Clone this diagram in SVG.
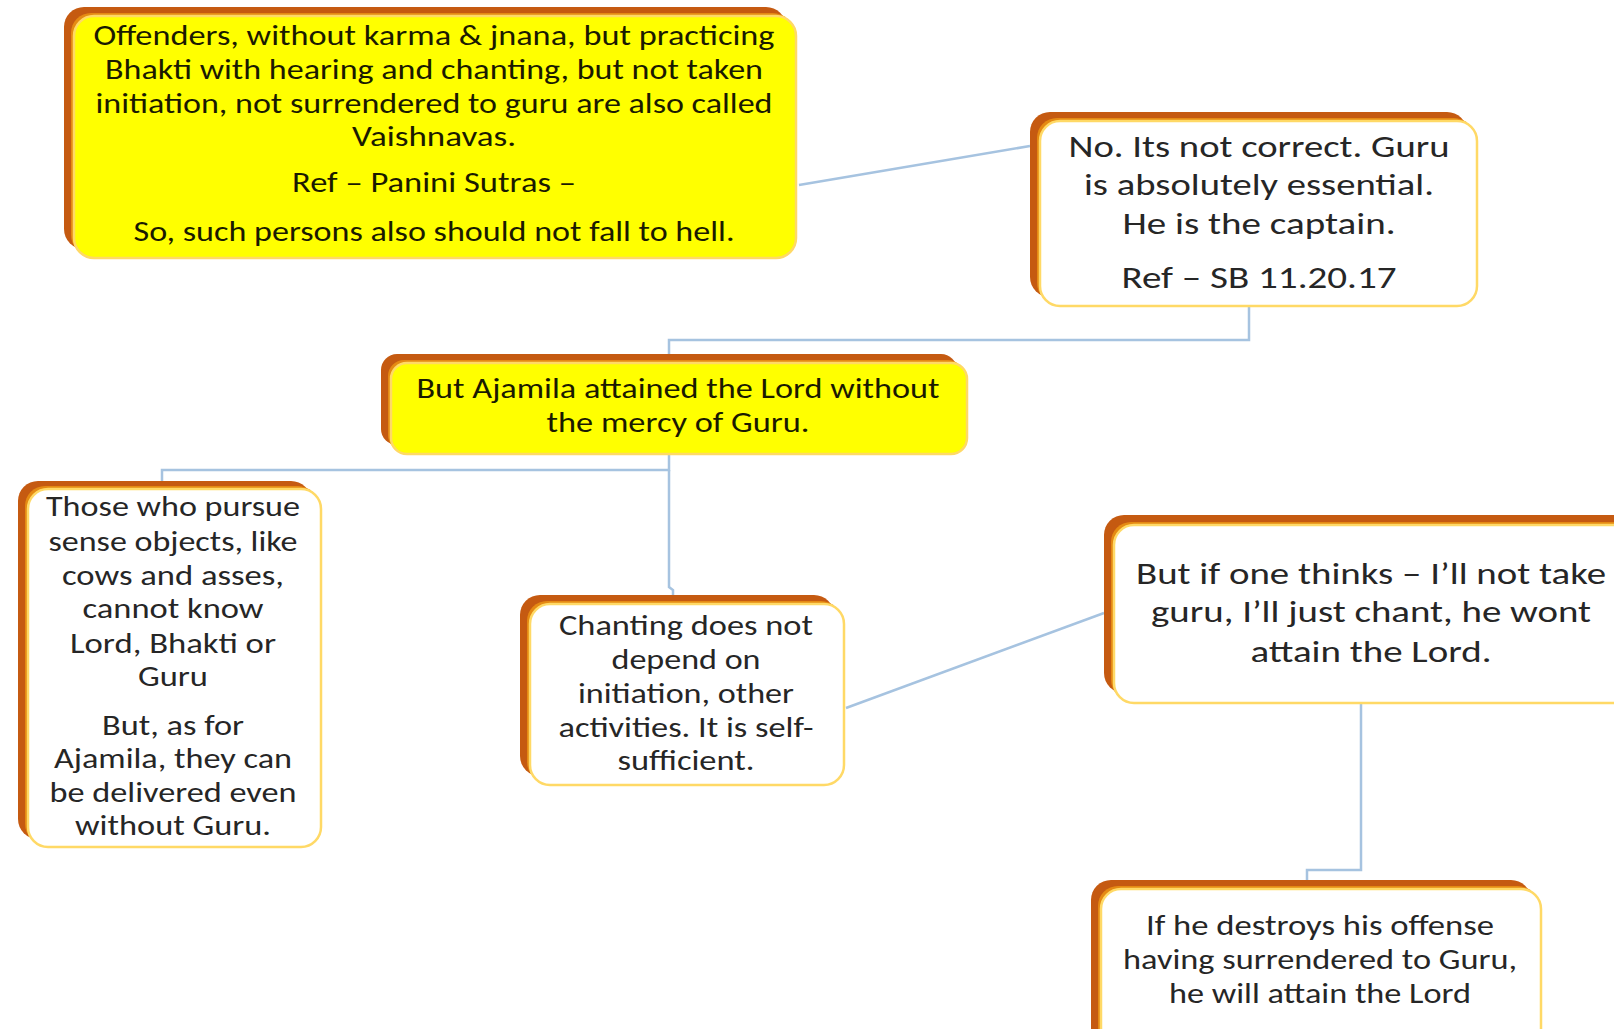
<svg xmlns="http://www.w3.org/2000/svg" width="1614" height="1029" viewBox="0 0 1614 1029">
<defs>
<style>
.bk{fill:#C55A11}
.md{fill:#E58A13}
.fw{fill:#FFFFFF;stroke:#FFD966;stroke-width:2.5}
.fy{fill:#FFFF00;stroke:#FFD966;stroke-width:2.5}
.t{font-family:Carlito,Lato,"Liberation Sans",sans-serif;font-size:28px;fill:#262626;text-anchor:middle}
.ty{fill:#1a1a00}
.w{font-size:30px}
.c{fill:none;stroke:#A6C3E0;stroke-width:2.5}
</style>
</defs>
<rect width="1614" height="1029" fill="#FFFFFF"/>
<g id="connectors">
<line class="c" x1="799" y1="185" x2="1030" y2="146"/>
<polyline class="c" points="1249,306 1249,340 669,340 669,354"/>
<polyline class="c" points="669,455 669,470 162,470 162,482"/>
<polyline class="c" points="669,470 669,587 673,590 673,596"/>
<line class="c" x1="846" y1="708" x2="1104" y2="613"/>
<polyline class="c" points="1361,703 1361,870 1307,870 1307,882"/>
</g>
<g id="node1">
<rect class="bk" x="64" y="7" width="722" height="242" rx="20"/>
<rect class="md" x="71" y="13" width="722" height="242" rx="20"/>
<rect class="fy" x="74" y="16" width="722" height="242" rx="20"/>
<text class="t ty" x="434" y="45" textLength="681" lengthAdjust="spacingAndGlyphs">Offenders, without karma &amp; jnana, but practicing</text>
<text class="t ty" x="434" y="79" textLength="658" lengthAdjust="spacingAndGlyphs">Bhakti with hearing and chanting, but not taken</text>
<text class="t ty" x="434" y="113" textLength="677" lengthAdjust="spacingAndGlyphs">initiation, not surrendered to guru are also called</text>
<text class="t ty" x="434" y="146" textLength="164" lengthAdjust="spacingAndGlyphs">Vaishnavas.</text>
<text class="t ty" x="434" y="192" textLength="284" lengthAdjust="spacingAndGlyphs">Ref – Panini Sutras –</text>
<text class="t ty" x="434" y="241" textLength="601" lengthAdjust="spacingAndGlyphs">So, such persons also should not fall to hell.</text>
</g>
<g id="node2">
<rect class="bk" x="1030" y="112" width="437" height="185" rx="20"/>
<rect class="md" x="1037" y="118" width="437" height="185" rx="20"/>
<rect class="fw" x="1040" y="121" width="437" height="185" rx="20"/>
<text class="t w" x="1259" y="157" textLength="381" lengthAdjust="spacingAndGlyphs">No. Its not correct. Guru</text>
<text class="t w" x="1259" y="195" textLength="350" lengthAdjust="spacingAndGlyphs">is absolutely essential.</text>
<text class="t w" x="1259" y="234" textLength="273" lengthAdjust="spacingAndGlyphs">He is the captain.</text>
<text class="t w" x="1259" y="288" textLength="275" lengthAdjust="spacingAndGlyphs">Ref – SB 11.20.17</text>
</g>
<g id="node3">
<rect class="bk" x="381" y="354" width="576" height="91" rx="16"/>
<rect class="md" x="388" y="360" width="576" height="91" rx="16"/>
<rect class="fy" x="391" y="363" width="576" height="91" rx="16"/>
<text class="t ty" x="678" y="398" textLength="523" lengthAdjust="spacingAndGlyphs">But Ajamila attained the Lord without</text>
<text class="t ty" x="678" y="432" textLength="263" lengthAdjust="spacingAndGlyphs">the mercy of Guru.</text>
</g>
<g id="node4">
<rect class="bk" x="18" y="481" width="293" height="358" rx="20"/>
<rect class="md" x="25" y="486" width="293" height="358" rx="20"/>
<rect class="fw" x="28" y="489" width="293" height="358" rx="20"/>
<text class="t" x="173" y="516" textLength="254" lengthAdjust="spacingAndGlyphs">Those who pursue</text>
<text class="t" x="173" y="551" textLength="249" lengthAdjust="spacingAndGlyphs">sense objects, like</text>
<text class="t" x="173" y="585" textLength="222" lengthAdjust="spacingAndGlyphs">cows and asses,</text>
<text class="t" x="173" y="618" textLength="181" lengthAdjust="spacingAndGlyphs">cannot know</text>
<text class="t" x="173" y="653" textLength="206" lengthAdjust="spacingAndGlyphs">Lord, Bhakti or</text>
<text class="t" x="173" y="686" textLength="70" lengthAdjust="spacingAndGlyphs">Guru</text>
<text class="t" x="173" y="735" textLength="142" lengthAdjust="spacingAndGlyphs">But, as for</text>
<text class="t" x="173" y="768" textLength="238" lengthAdjust="spacingAndGlyphs">Ajamila, they can</text>
<text class="t" x="173" y="802" textLength="247" lengthAdjust="spacingAndGlyphs">be delivered even</text>
<text class="t" x="173" y="835" textLength="196" lengthAdjust="spacingAndGlyphs">without Guru.</text>
</g>
<g id="node5">
<rect class="bk" x="520" y="595" width="314" height="181" rx="20"/>
<rect class="md" x="527" y="601" width="314" height="181" rx="20"/>
<rect class="fw" x="530" y="604" width="314" height="181" rx="20"/>
<text class="t" x="686" y="635" textLength="254" lengthAdjust="spacingAndGlyphs">Chanting does not</text>
<text class="t" x="686" y="669" textLength="149" lengthAdjust="spacingAndGlyphs">depend on</text>
<text class="t" x="686" y="703" textLength="216" lengthAdjust="spacingAndGlyphs">initiation, other</text>
<text class="t" x="686" y="737" textLength="255" lengthAdjust="spacingAndGlyphs">activities. It is self-</text>
<text class="t" x="686" y="770" textLength="137" lengthAdjust="spacingAndGlyphs">sufficient.</text>
</g>
<g id="node6">
<rect class="bk" x="1104" y="515" width="540" height="178" rx="20"/>
<rect class="md" x="1111" y="522" width="540" height="178" rx="20"/>
<rect class="fw" x="1114" y="525" width="540" height="178" rx="20"/>
<text class="t w" x="1371" y="584" textLength="470" lengthAdjust="spacingAndGlyphs">But if one thinks – I’ll not take</text>
<text class="t w" x="1371" y="622" textLength="440" lengthAdjust="spacingAndGlyphs">guru, I’ll just chant, he wont</text>
<text class="t w" x="1371" y="662" textLength="241" lengthAdjust="spacingAndGlyphs">attain the Lord.</text>
</g>
<g id="node7">
<rect class="bk" x="1091" y="880" width="440" height="180" rx="20"/>
<rect class="md" x="1098" y="886" width="440" height="180" rx="20"/>
<rect class="fw" x="1101" y="889" width="440" height="180" rx="20"/>
<text class="t" x="1320" y="935" textLength="348" lengthAdjust="spacingAndGlyphs">If he destroys his offense</text>
<text class="t" x="1320" y="969" textLength="394" lengthAdjust="spacingAndGlyphs">having surrendered to Guru,</text>
<text class="t" x="1320" y="1003" textLength="302" lengthAdjust="spacingAndGlyphs">he will attain the Lord</text>
</g>
</svg>
